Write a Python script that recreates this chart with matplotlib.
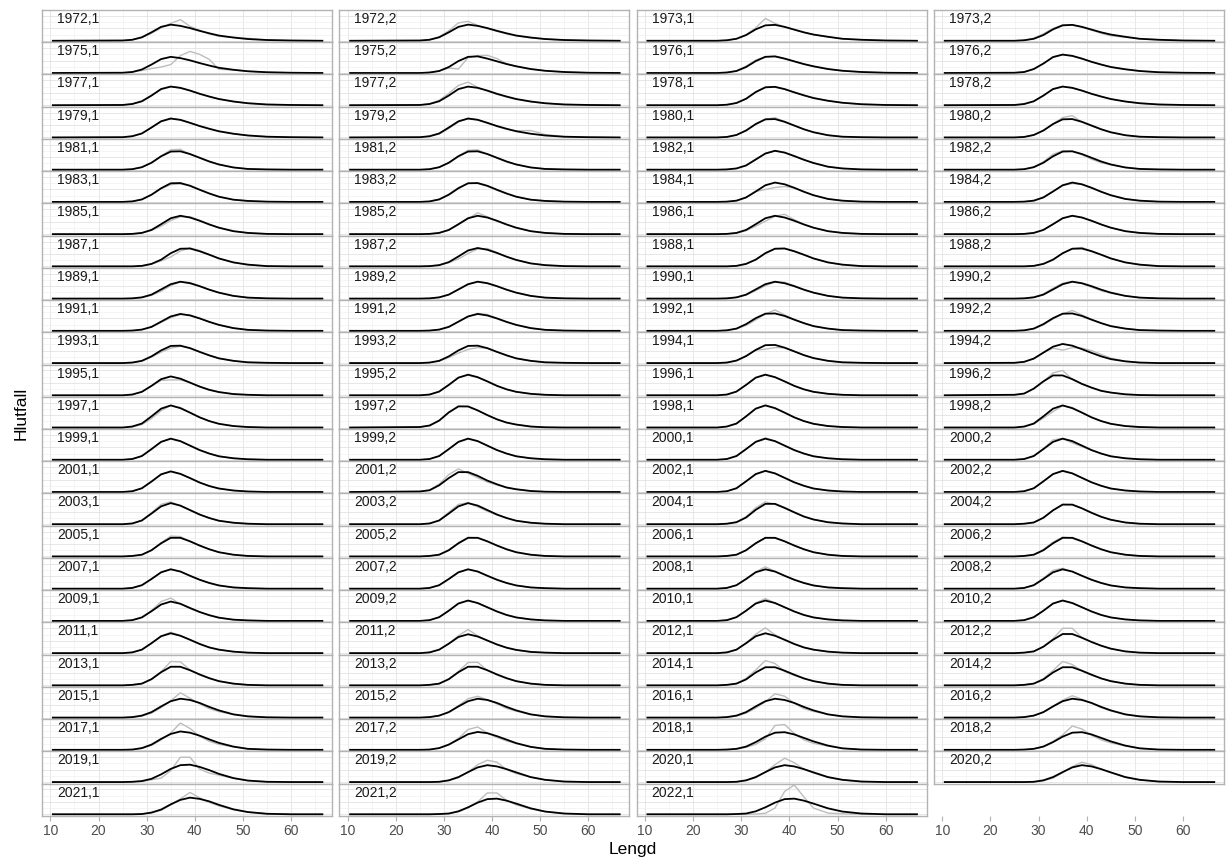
import matplotlib.pyplot as plt
import numpy as np

plt.rcParams['font.family'] = ['Liberation Sans', 'DejaVu Sans']

# length classes (cm) where the proportions are read
lengths = [10.5, 25, 27, 29, 31, 33, 35, 37, 39, 41, 43, 45, 48, 51, 55, 60, 66.5]

panel_labels = [
    "1972,1", "1972,2", "1973,1", "1973,2", "1975,1", "1975,2", "1976,1", "1976,2",
    "1977,1", "1977,2", "1978,1", "1978,2", "1979,1", "1979,2", "1980,1", "1980,2",
    "1981,1", "1981,2", "1982,1", "1982,2", "1983,1", "1983,2", "1984,1", "1984,2",
    "1985,1", "1985,2", "1986,1", "1986,2", "1987,1", "1987,2", "1988,1", "1988,2",
    "1989,1", "1989,2", "1990,1", "1990,2", "1991,1", "1991,2", "1992,1", "1992,2",
    "1993,1", "1993,2", "1994,1", "1994,2", "1995,1", "1995,2", "1996,1", "1996,2",
    "1997,1", "1997,2", "1998,1", "1998,2", "1999,1", "1999,2", "2000,1", "2000,2",
    "2001,1", "2001,2", "2002,1", "2002,2", "2003,1", "2003,2", "2004,1", "2004,2",
    "2005,1", "2005,2", "2006,1", "2006,2", "2007,1", "2007,2", "2008,1", "2008,2",
    "2009,1", "2009,2", "2010,1", "2010,2", "2011,1", "2011,2", "2012,1", "2012,2",
    "2013,1", "2013,2", "2014,1", "2014,2", "2015,1", "2015,2", "2016,1", "2016,2",
    "2017,1", "2017,2", "2018,1", "2018,2", "2019,1", "2019,2", "2020,1", "2020,2",
    "2021,1", "2021,2", "2022,1",
]

# model fit (black), proportion x 1000
fitted = [
    [0,1,4,14,34,56,65,60,51,40,30,21,13,7,3,1,0],
    [0,1,4,14,34,56,65,60,51,40,30,21,13,7,3,1,0],
    [0,0,2,8,23,46,62,64,56,45,34,25,16,8,4,1,0],
    [0,0,2,8,23,46,62,64,56,45,34,25,16,8,4,1,0],
    [0,1,4,14,34,56,65,60,51,40,30,21,13,7,3,1,0],
    [0,0,2,8,24,48,65,67,58,47,36,27,16,9,4,1,0],
    [0,0,2,8,24,48,65,67,58,47,36,27,16,9,4,1,0],
    [0,1,4,16,38,64,74,69,58,45,34,24,15,8,3,1,0],
    [0,1,5,16,39,65,75,70,59,46,35,25,15,8,3,1,0],
    [0,1,5,16,39,65,75,70,59,46,35,25,15,8,3,1,0],
    [0,0,2,9,26,53,72,74,65,52,40,29,18,10,4,1,0],
    [0,1,5,16,39,65,75,70,59,46,35,25,15,8,3,1,0],
    [0,1,5,16,40,65,76,71,59,46,35,25,15,8,3,1,0],
    [0,1,5,16,40,65,76,71,59,46,35,25,15,8,3,1,0],
    [0,0,2,10,28,54,73,74,63,48,33,21,9,3,1,0,0],
    [0,0,2,10,28,54,73,74,63,48,33,21,9,3,1,0,0],
    [0,0,2,10,28,54,73,74,63,48,33,21,9,3,1,0,0],
    [0,0,2,10,28,54,73,74,63,48,33,21,9,3,1,0,0],
    [0,0,1,5,17,41,65,76,69,55,40,27,12,5,1,0,0],
    [0,0,2,10,28,54,73,74,63,48,33,21,9,3,1,0,0],
    [0,0,2,10,29,55,75,76,65,49,34,21,9,4,1,0,0],
    [0,0,2,10,29,55,75,76,65,49,34,21,9,4,1,0,0],
    [0,0,1,5,18,42,67,78,71,57,41,27,12,5,1,0,0],
    [0,0,1,5,18,42,67,78,71,57,41,27,12,5,1,0,0],
    [0,0,1,5,17,40,64,74,67,54,39,26,12,5,1,0,0],
    [0,0,1,5,17,40,64,74,67,54,39,26,12,5,1,0,0],
    [0,0,1,5,17,40,64,74,67,54,39,26,12,5,1,0,0],
    [0,0,1,5,17,40,64,74,67,54,39,26,12,5,1,0,0],
    [0,0,0,2,10,27,53,71,72,61,47,32,16,7,1,0,0],
    [0,0,1,5,17,40,64,74,67,54,39,26,12,5,1,0,0],
    [0,0,0,2,10,27,53,71,72,61,47,32,16,7,1,0,0],
    [0,0,0,2,10,27,53,71,72,61,47,32,16,7,1,0,0],
    [0,0,1,5,16,37,58,68,62,50,36,24,11,4,1,0,0],
    [0,0,1,5,16,37,58,68,62,50,36,24,11,4,1,0,0],
    [0,0,1,5,16,37,58,68,62,50,36,24,11,4,1,0,0],
    [0,0,1,5,16,37,58,68,62,50,36,24,11,4,1,0,0],
    [0,0,1,5,16,37,58,68,62,50,36,24,11,4,1,0,0],
    [0,0,1,5,16,37,58,68,62,50,36,24,11,4,1,0,0],
    [0,0,2,9,27,51,69,70,60,45,31,19,9,3,1,0,0],
    [0,0,2,9,27,51,69,70,60,45,31,19,9,3,1,0,0],
    [0,0,2,9,27,51,69,70,60,45,31,19,9,3,1,0,0],
    [0,0,2,9,27,51,69,70,60,45,31,19,9,3,1,0,0],
    [0,0,2,10,28,53,72,73,62,47,32,20,9,3,1,0,0],
    [0,1,5,18,42,66,77,70,56,41,27,16,7,2,0,0,0],
    [0,0,3,14,38,65,76,67,51,35,22,13,5,2,0,0,0],
    [0,0,3,15,42,71,83,73,56,38,24,14,6,2,0,0,0],
    [0,0,3,15,42,71,83,73,56,38,24,14,6,2,0,0,0],
    [0,2,7,27,56,80,80,65,46,31,18,11,4,1,0,0,0],
    [0,0,4,16,45,76,89,78,60,41,26,15,6,2,0,0,0],
    [0,2,8,28,61,85,85,69,50,33,20,12,4,1,0,0,0],
    [0,0,4,16,45,76,89,78,60,41,26,15,6,2,0,0,0],
    [0,0,4,16,45,76,89,78,60,41,26,15,6,2,0,0,0],
    [0,0,3,15,43,72,85,75,57,39,25,14,6,2,0,0,0],
    [0,0,3,15,43,72,85,75,57,39,25,14,6,2,0,0,0],
    [0,0,3,15,43,72,85,75,57,39,25,14,6,2,0,0,0],
    [0,0,3,15,43,72,85,75,57,39,25,14,6,2,0,0,0],
    [0,0,3,15,42,71,83,73,56,38,24,14,6,2,0,0,0],
    [0,2,7,27,56,80,80,65,46,31,18,11,4,1,0,0,0],
    [0,0,3,15,43,72,85,75,57,39,25,14,6,2,0,0,0],
    [0,0,3,15,43,72,85,75,57,39,25,14,6,2,0,0,0],
    [0,0,3,15,43,72,85,75,57,39,25,14,6,2,0,0,0],
    [0,0,3,15,43,72,85,75,57,39,25,14,6,2,0,0,0],
    [0,0,2,8,27,58,82,82,66,48,31,19,8,3,0,0,0],
    [0,0,2,7,26,56,79,79,64,46,30,18,7,2,0,0,0],
    [0,0,2,7,25,53,75,75,61,44,29,17,7,2,0,0,0],
    [0,0,2,7,25,53,75,75,61,44,29,17,7,2,0,0,0],
    [0,0,2,7,25,53,75,75,61,44,29,17,7,2,0,0,0],
    [0,0,2,7,25,53,75,75,61,44,29,17,7,2,0,0,0],
    [0,0,3,14,39,66,78,69,52,36,23,13,5,2,0,0,0],
    [0,0,3,14,39,66,78,69,52,36,23,13,5,2,0,0,0],
    [0,0,3,14,39,66,78,69,52,36,23,13,5,2,0,0,0],
    [0,0,3,14,39,66,78,69,52,36,23,13,5,2,0,0,0],
    [0,0,3,14,39,66,78,69,52,36,23,13,5,2,0,0,0],
    [0,0,3,15,41,70,82,72,55,38,24,14,6,2,0,0,0],
    [0,0,3,15,41,70,82,72,55,38,24,14,6,2,0,0,0],
    [0,0,3,15,41,70,82,72,55,38,24,14,6,2,0,0,0],
    [0,0,3,14,40,68,80,70,54,37,23,14,6,2,0,0,0],
    [0,0,3,14,38,65,76,67,51,35,22,13,5,2,0,0,0],
    [0,0,3,14,40,68,80,70,54,37,23,14,6,2,0,0,0],
    [0,0,2,7,26,54,77,77,62,45,30,18,7,2,0,0,0],
    [0,0,2,7,25,53,75,75,61,44,29,17,7,2,0,0,0],
    [0,0,2,7,25,53,75,75,61,44,29,17,7,2,0,0,0],
    [0,0,2,7,24,52,73,73,59,43,28,17,7,2,0,0,0],
    [0,0,2,7,24,52,73,73,59,43,28,17,7,2,0,0,0],
    [0,0,2,8,22,45,66,76,71,59,43,29,13,5,1,0,0],
    [0,0,2,8,22,45,66,76,71,59,43,29,13,5,1,0,0],
    [0,0,2,8,22,45,66,76,71,59,43,29,13,5,1,0,0],
    [0,0,2,8,22,45,66,76,71,59,43,29,13,5,1,0,0],
    [0,0,1,7,21,44,64,74,69,57,42,28,13,4,1,0,0],
    [0,0,1,7,21,42,63,72,67,55,41,27,12,4,1,0,0],
    [0,0,1,4,13,31,53,69,71,62,48,34,17,6,1,0,0],
    [0,0,1,4,13,31,53,69,71,62,48,34,17,6,1,0,0],
    [0,0,1,4,13,31,53,68,70,61,48,33,16,6,1,0,0],
    [0,0,0,1,7,20,40,59,68,63,52,39,20,9,2,0,0],
    [0,0,0,1,7,20,40,59,68,63,52,39,20,9,2,0,0],
    [0,0,0,1,7,20,40,59,68,63,52,39,20,9,2,0,0],
    [0,0,0,1,7,19,40,58,67,62,52,38,20,9,2,0,0],
    [0,0,0,1,3,12,28,47,61,63,55,43,24,11,3,0,0],
    [0,0,0,1,3,12,28,47,61,63,55,43,24,11,3,0,0],
]

# observed length distribution (grey), proportion x 1000
observed = [
    [0,1,4,13,30,52,70,85,58,42,28,18,14,10,3,1,0],
    [0,1,5,16,40,72,78,62,49,38,28,20,12,7,3,1,0],
    [0,0,2,8,24,52,90,70,55,44,33,25,16,8,4,1,0],
    [0,0,2,10,28,50,64,64,55,43,30,20,14,8,4,1,0],
    [0,1,4,10,18,24,34,70,87,75,55,15,12,7,3,1,0],
    [0,0,2,8,20,16,62,70,71,58,38,27,16,9,4,1,0],
    [0,0,2,9,28,52,66,66,57,46,35,26,16,9,4,1,0],
    [0,1,4,15,38,65,75,68,57,45,34,25,15,8,3,1,0],
    [0,1,5,15,38,66,76,69,59,47,34,25,15,8,3,1,0],
    [0,1,6,20,48,80,93,72,57,44,33,24,14,8,3,1,0],
    [0,0,2,9,27,54,73,73,64,52,39,29,18,10,4,1,0],
    [0,1,4,15,38,66,76,70,58,46,35,25,15,8,3,1,0],
    [0,1,5,17,40,66,78,70,58,46,35,24,15,8,3,1,0],
    [0,1,4,14,36,62,78,72,58,44,33,27,28,12,3,1,0],
    [0,0,2,10,28,53,72,80,64,48,33,21,9,3,1,0,0],
    [0,0,2,10,28,55,80,88,62,46,32,20,9,3,1,0,0],
    [0,0,2,10,27,55,80,82,62,47,33,21,9,3,1,0,0],
    [0,0,2,9,28,56,78,80,63,47,32,21,9,3,1,0,0],
    [0,0,1,5,18,42,66,77,68,54,40,27,12,5,1,0,0],
    [0,0,2,11,32,62,76,74,60,42,28,20,9,3,1,0,0],
    [0,0,2,10,29,53,70,72,66,50,34,21,9,4,1,0,0],
    [0,0,2,11,31,58,75,74,63,47,33,21,9,4,1,0,0],
    [0,0,1,5,18,42,50,58,62,56,41,27,12,5,1,0,0],
    [0,0,1,6,19,43,66,74,70,56,40,27,12,5,1,0,0],
    [0,0,1,5,15,32,55,70,70,56,40,26,12,5,1,0,0],
    [0,0,1,5,16,38,62,86,70,52,38,26,12,5,1,0,0],
    [0,0,1,4,14,32,52,72,80,58,40,26,12,5,1,0,0],
    [0,0,1,5,17,41,64,75,67,53,39,26,12,5,1,0,0],
    [0,0,0,2,9,22,38,62,74,64,48,32,16,7,1,0,0],
    [0,0,1,5,15,30,52,70,72,56,39,26,12,5,1,0,0],
    [0,0,0,2,11,28,54,72,72,60,46,32,16,7,1,0,0],
    [0,0,0,2,10,27,52,72,76,62,47,32,16,7,1,0,0],
    [0,0,1,4,13,30,52,68,65,51,36,24,11,4,1,0,0],
    [0,0,1,5,16,36,57,69,63,50,36,24,11,4,1,0,0],
    [0,0,1,5,14,32,52,67,66,52,36,24,11,4,1,0,0],
    [0,0,1,6,19,42,62,69,60,46,32,22,11,4,1,0,0],
    [0,0,1,5,15,34,53,66,64,51,37,24,11,4,1,0,0],
    [0,0,1,5,15,36,57,70,66,50,36,24,11,4,1,0,0],
    [0,0,2,8,22,44,68,84,64,46,31,19,9,3,1,0,0],
    [0,0,2,8,24,48,68,82,64,46,31,19,9,3,1,0,0],
    [0,0,2,8,24,44,60,68,61,46,31,19,9,3,1,0,0],
    [0,0,2,8,22,40,55,62,60,46,32,19,9,3,1,0,0],
    [0,0,2,10,30,52,56,62,62,48,32,20,9,3,1,0,0],
    [0,1,5,18,42,60,52,62,60,50,35,20,7,2,0,0,0],
    [0,0,3,14,38,60,62,62,52,36,22,13,5,2,0,0,0],
    [0,0,3,15,41,72,82,71,57,39,24,14,6,2,0,0,0],
    [0,0,3,15,41,71,84,73,56,38,24,14,6,2,0,0,0],
    [0,2,7,26,56,90,100,64,45,30,18,11,4,1,0,0,0],
    [0,0,3,12,36,68,89,80,60,41,26,15,6,2,0,0,0],
    [0,2,8,27,60,86,84,69,50,33,20,12,4,1,0,0,0],
    [0,0,4,16,44,76,90,79,60,41,26,15,6,2,0,0,0],
    [0,0,3,14,38,64,88,80,61,41,26,15,6,2,0,0,0],
    [0,0,3,15,42,73,85,74,57,39,25,14,6,2,0,0,0],
    [0,0,3,14,42,72,86,76,56,39,25,14,6,2,0,0,0],
    [0,0,3,15,43,73,88,75,57,39,25,14,6,2,0,0,0],
    [0,0,3,16,45,80,86,68,53,38,25,14,6,2,0,0,0],
    [0,0,3,15,42,72,82,72,56,39,24,14,6,2,0,0,0],
    [0,2,8,32,70,93,75,57,40,28,18,11,4,1,0,0,0],
    [0,0,3,15,43,72,86,74,57,39,25,14,6,2,0,0,0],
    [0,0,3,15,42,73,85,75,56,39,25,14,6,2,0,0,0],
    [0,0,3,16,46,80,90,73,56,39,25,14,6,2,0,0,0],
    [0,0,3,16,48,80,86,70,52,37,25,14,6,2,0,0,0],
    [0,0,2,9,30,66,90,80,64,47,31,19,8,3,0,0,0],
    [0,0,2,7,26,56,80,78,64,46,30,18,7,2,0,0,0],
    [0,0,2,7,25,55,82,80,60,43,29,17,7,2,0,0,0],
    [0,0,2,8,27,55,77,75,60,44,28,17,7,2,0,0,0],
    [0,0,2,7,25,54,76,75,60,44,29,17,7,2,0,0,0],
    [0,0,2,8,28,58,78,74,60,44,28,17,7,2,0,0,0],
    [0,0,3,14,39,66,79,69,52,36,23,13,5,2,0,0,0],
    [0,0,3,14,38,65,78,70,53,36,23,13,5,2,0,0,0],
    [0,0,3,14,40,68,88,70,52,36,23,13,5,2,0,0,0],
    [0,0,3,15,42,74,82,68,52,36,23,13,5,2,0,0,0],
    [0,0,3,15,42,78,92,68,50,35,23,13,5,2,0,0,0],
    [0,0,3,15,42,71,82,71,55,38,24,14,6,2,0,0,0],
    [0,0,3,15,42,72,90,72,55,38,24,14,6,2,0,0,0],
    [0,0,3,15,41,70,83,72,55,38,24,14,6,2,0,0,0],
    [0,0,3,14,40,69,84,71,53,37,23,14,6,2,0,0,0],
    [0,0,3,14,39,70,95,70,50,34,22,13,5,2,0,0,0],
    [0,0,3,14,41,76,102,74,52,36,23,14,6,2,0,0,0],
    [0,0,2,7,26,58,100,100,62,44,30,18,7,2,0,0,0],
    [0,0,2,7,24,55,96,95,62,42,28,17,7,2,0,0,0],
    [0,0,2,7,25,56,92,93,60,42,28,17,7,2,0,0,0],
    [0,0,2,8,28,62,100,88,56,40,28,17,7,2,0,0,0],
    [0,0,2,8,27,60,96,84,58,41,28,17,7,2,0,0,0],
    [0,0,1,6,18,40,68,100,78,56,36,24,13,5,1,0,0],
    [0,0,2,8,22,48,76,86,72,55,37,26,13,5,1,0,0],
    [0,0,1,6,18,38,64,96,86,58,36,25,13,5,1,0,0],
    [0,0,2,8,22,46,70,88,74,58,40,27,13,5,1,0,0],
    [0,0,1,6,18,40,68,108,86,55,34,22,12,4,1,0,0],
    [0,0,1,7,22,46,82,92,68,50,36,25,12,4,1,0,0],
    [0,0,1,3,10,22,44,98,102,66,40,26,15,6,1,0,0],
    [0,0,1,4,14,34,60,96,84,58,40,28,16,6,1,0,0],
    [0,0,1,3,9,16,46,100,100,52,36,28,15,6,1,0,0],
    [0,0,0,1,6,18,40,70,88,80,50,34,20,9,2,0,0],
    [0,0,0,1,6,18,40,70,96,78,52,36,19,9,2,0,0],
    [0,0,0,1,5,16,38,62,80,70,52,38,20,9,2,0,0],
    [0,0,0,1,5,16,38,62,88,66,48,34,19,9,2,0,0],
    [0,0,0,1,3,10,26,50,86,86,56,38,22,11,3,0,0],
    [0,0,0,0,0,1,4,25,92,118,70,25,5,2,0,0,0],
]

x_breaks = [10, 20, 30, 40, 50, 60]
x_minor = [15, 25, 35, 45, 55, 65]
y_breaks = [0, 0.05, 0.10]
y_minor = [0.025, 0.075]

W, H = 1227, 863
ncol = 4
nrow = int(np.ceil(len(panel_labels) / ncol))
left0, pitch, pw = 42, 297.3, 290
top0, ph = 10, 32.23

ymax = max(max(v) for v in fitted + observed) / 1000
ylim = (-0.05 * ymax, 1.05 * ymax)
xlim = (8.25, 68.5)

fig = plt.figure(figsize=(W / 100, H / 100), dpi=100)


def make_axes(r, c, h=ph):
    ax = fig.add_axes([(left0 + c * pitch) / W, 1 - (top0 + r * ph + h) / H, pw / W, h / H])
    ax.set_xlim(xlim)
    ax.set_ylim(ylim)
    ax.set_xticks(x_breaks)
    ax.set_xticks(x_minor, minor=True)
    ax.set_yticks([])
    return ax


for i, label in enumerate(panel_labels):
    r, c = divmod(i, ncol)
    ax = make_axes(r, c)
    ax.tick_params(axis="x", which="both", bottom=False, labelbottom=False)
    for xb in x_breaks:
        ax.axvline(xb, color="#e3e3e3", lw=0.6, zorder=0)
    for xb in x_minor:
        ax.axvline(xb, color="#eeeeee", lw=0.4, zorder=0)
    for yb in y_breaks:
        ax.axhline(yb, color="#e3e3e3", lw=0.6, zorder=0)
    for yb in y_minor:
        ax.axhline(yb, color="#eeeeee", lw=0.4, zorder=0)

    ax.plot(lengths, np.array(observed[i]) / 1000, color="#bdbdbd", lw=1.0, zorder=2)
    ax.plot(lengths, np.array(fitted[i]) / 1000, color="black", lw=1.3, zorder=3)
    ax.text(0.052, 0.72, label, transform=ax.transAxes, ha="left", va="center",
            fontsize=10, color="#1a1a1a", zorder=4)

    for s in ax.spines.values():
        s.set_color("#b3b3b3")
        s.set_linewidth(1.0)

# x axis under the last row, one per column
for c in range(ncol):
    ax = make_axes(nrow, c, h=0.5)
    for s in ax.spines.values():
        s.set_visible(False)
    ax.patch.set_alpha(0)
    ax.tick_params(axis="x", which="minor", bottom=False)
    ax.tick_params(axis="x", which="major", length=3.5, width=0.8, color="#b3b3b3",
                   labelsize=10, labelcolor="#4d4d4d", pad=2)

fig.text((left0 + 3 * pitch + pw + left0) / 2 / W, 1 - 849 / H, "Lengd",
         ha="center", va="center", fontsize=12.5)
fig.text(21 / W, 1 - 413 / H, "Hlutfall", rotation=90,
         ha="center", va="center", fontsize=12.5)

fig.savefig("out.png", dpi=100)
